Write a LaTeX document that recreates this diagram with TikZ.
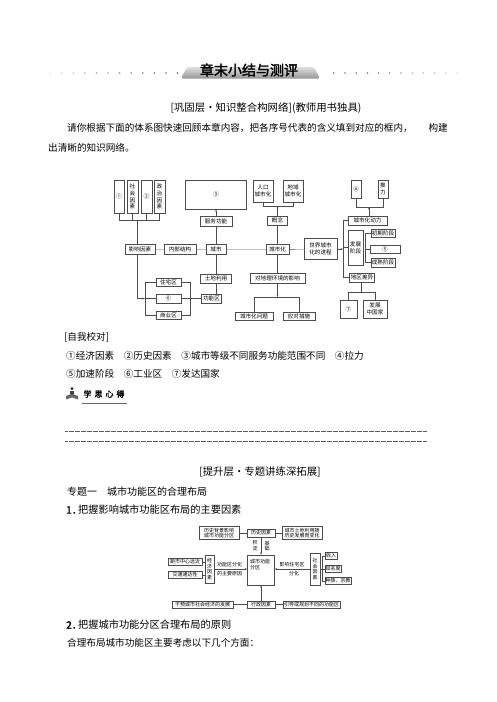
\documentclass[tikz,border=0pt]{standalone}
\usepackage{fontspec}
\newfontfamily\cjk{Noto Sans CJK SC}
\newfontfamily\cjkb[FakeBold=2]{Noto Sans CJK SC}
\usetikzlibrary{arrows.meta,positioning,calc}

\begin{document}
\begin{tikzpicture}[x=1pt,y=-1pt,>={Stealth[length=2.4pt,width=1.8pt]},
  every node/.style={font=\cjk,inner sep=0pt},
  sz/.style 2 args={minimum width=#1pt,minimum height=#2pt},
  bx/.style={draw=black!70,line width=0.4pt,align=center,font=\cjk\fontsize{5.6}{6.8}\selectfont},
  sbx/.style={draw=black!70,line width=0.45pt,align=center,font=\cjk\fontsize{5}{5.8}\selectfont},
  lbl/.style={align=center,font=\cjk\fontsize{5}{5.8}\selectfont},
  ln/.style={draw=black!70,line width=0.4pt},
  txt/.style={anchor=west,font=\cjk\fontsize{9.6}{11}\selectfont},
  hd/.style={font=\cjk\fontsize{10.4}{12}\selectfont},
  dots/.style={black!65,line width=0.45pt,dash pattern=on 0.45pt off 0.75pt}]
\useasboundingbox (0,0) rectangle (496,702);

% banner
\shade[top color=black!12,bottom color=black!42,rounded corners=2pt]
  (181,78.5) -- (187,67) -- (314,67) -- (320,78.5) -- cycle;
\node[font=\cjkb\fontsize{14}{16}\selectfont] (zmxj) at (249,70) {章末小结与测评};
\foreach \i in {0,...,11} {
  \pgfmathsetmacro{\c}{min(55,12+\i*5)}
  \fill[black!\c] (50+\i*11.6,73) circle (0.9);
  \fill[black!\c] (457-\i*11.2,73) circle (0.9);
}

\node[hd] (gcc) at (266,108) {[巩固层·知识整合构网络](教师用书独具)};
\node[txt] (qn1) at (67,128) {请你根据下面的体系图快速回顾本章内容，把各序号代表的含义填到对应的框内，};
\node[txt,anchor=east] (qn2) at (448,128) {构建};
\node[txt] (qn3) at (48,148) {出清晰的知识网络。};

% knowledge network
\node[bx,sz={10}{33}] (q1) at (119,196.5) {①};
\node[bx,sz={11}{33}] (shys) at (132.5,196.5) {社\\会\\因\\素};
\node[bx,sz={11}{33}] (q2) at (146.5,196.5) {②};
\node[bx,sz={11}{33}] (zzys) at (159.5,196.5) {政\\治\\因\\素};
\coordinate (b1) at (137,220);

\node[bx,sz={30}{10}] (yxys) at (140,249.5) {影响因素};
\node[bx,sz={32}{10}] (nbjg) at (180,249.5) {内部结构};
\node[bx,sz={20}{10}] (cs) at (216,249.5) {城市};
\node[bx,sz={23}{10}] (csh) at (277.5,249.5) {城市化};
\node[bx,sz={33}{21}] (sjjc) at (320.5,249) {世界城市\\化的进程};

\node[bx,sz={61}{29}] (q3) at (216,194.5) {③};
\node[bx,sz={32}{10}] (fwgn) at (216,221) {服务功能};

\node[bx,sz={20}{22}] (rkcsh) at (263,191) {人口\\城市化};
\node[bx,sz={20}{22}] (dycsh) at (293,191) {地域\\城市化};
\node[bx,sz={20}{9}] (gn) at (277.5,220.5) {概念};
\coordinate (b3) at (277.5,206);

\coordinate (sx) at (343,249);
\node[bx,sz={10}{18}] (q4) at (356,189) {④};
\node[bx,sz={10}{18}] (tl) at (383,189) {推\\力};
\node[bx,sz={39}{9}] (dl) at (367.5,220.5) {城市化动力};
\coordinate (b4) at (369,207);
\node[bx,sz={15}{35}] (fzjd) at (355.5,247.5) {发展\\阶段};
\coordinate (fr) at (365,247.5);
\node[bx,sz={24}{8}] (cqjd) at (383,233) {初期阶段};
\node[bx,sz={30}{8}] (q5) at (385,249) {⑤};
\node[bx,sz={24}{9}] (csjd) at (383,262.5) {成熟阶段};
\node[bx,sz={25}{9}] (dqcy) at (362,277.5) {地区差异};
\node[bx,sz={17}{18}] (q7) at (348.5,309) {⑦};
\node[bx,sz={24}{18}] (fzzg) at (375,309) {发展\\中国家};
\coordinate (b5) at (361,292);

\node[bx,sz={31}{9}] (tdly) at (216,278.5) {土地利用};
\node[bx,sz={20}{9}] (gnq) at (211.5,298.5) {功能区};
\node[bx,sz={25}{8}] (zzq) at (168.5,282) {住宅区};
\node[bx,sz={25}{9}] (q6) at (168.5,298.5) {⑥};
\node[bx,sz={25}{8}] (syq) at (168.5,315) {商业区};
\coordinate (lb) at (145,298.5);
\coordinate (rb) at (190,298.5);

\node[bx,sz={55}{10}] (dlhj) at (277.5,278) {对地理环境的影响};
\coordinate (b6) at (277.5,297);
\node[bx,sz={38}{8}] (wt) at (254,316) {城市化问题};
\node[bx,sz={32}{8}] (ydcs) at (299,316) {应对措施};

\draw[ln] (q1.south) |- (zzys.south |- b1) -- (zzys.south);
\draw[ln] (shys.south) -- (shys.south |- b1);
\draw[ln] (q2.south) -- (q2.south |- b1);
\draw[ln] (b1) -- (b1 |- yxys.north);
\draw[ln] (yxys) -- (nbjg) -- (cs) -- (csh) -- (sjjc);
\draw[ln] (cs) -- (fwgn);
\draw[ln,->] (fwgn) -- (q3);
\draw[ln] (rkcsh.south) |- (dycsh.south |- b3) -- (dycsh.south);
\draw[ln] (csh) -- (gn);
\draw[ln,->] (gn) -- (b3);
\draw[ln] (q4.south) |- (tl.south |- b4) -- (tl.south);
\draw[ln,->] (dl.north -| b4) -- (b4);
\draw[ln] (dl.west) -| (sx |- dqcy.west) -- (dqcy.west);
\draw[ln] (fzjd.west) -- (fzjd.west -| sx);
\draw[ln,->] (sjjc.east) -- (sjjc.east -| sx);
\draw[ln] (cqjd.west) -| (fr |- csjd.west) -- (csjd.west);
\draw[ln] (q5.west) -- (q5.west -| fr);
\draw[ln] (q7.north) |- (fzzg.north |- b5) -- (fzzg.north);
\draw[ln] (dqcy.south -| b5) -- (b5);
\draw[ln] (cs) -- (tdly);
\draw[ln] (tdly.south) -- (tdly.south |- gnq.north);
\draw[ln] (zzq.west) -| (lb |- syq.west) -- (syq.west);
\draw[ln] (q6.west) -- (lb);
\draw[ln] (zzq.east) -| (rb |- syq.east) -- (syq.east);
\draw[ln] (q6.east) -- (gnq.west);
\draw[ln,->] (b1 |- yxys.south) |- (lb);
\draw[ln] (csh) -- (dlhj);
\draw[ln,->] (dlhj) -- (b6);
\draw[ln] (wt.north) |- (ydcs.north |- b6) -- (ydcs.north);

% answers
\node[txt] (zwjd) at (64,337) {[自我校对]};
\node[txt] (da1) at (66,356) {①经济因素　②历史因素　③城市等级不同服务功能范围不同　④拉力};
\node[txt] (da2) at (66,374) {⑤加速阶段　⑥工业区　⑦发达国家};

% study icon
\fill[black!75] (72,388.6) circle (1.7);
\fill[black!75] (70,391) rectangle (74,395.5);
\fill[black!60] (66,396) -- (72,393.8) -- (78,396) -- (78,399.5) -- (72,397.4) -- (66,399.5) -- cycle;
\node[font=\cjkb\fontsize{8}{9}\selectfont] (xsxd) at (104,394) {学\hspace{3pt}思\hspace{3pt}心\hspace{3pt}得};
\draw[black!60,line width=0.6pt] (82,403) -- (127,403);
\draw[dots] (65,431) -- (427,431);
\draw[dots] (65,441) -- (427,441);

\node[hd] (tsc) at (260,472) {[提升层·专题讲练深拓展]};
\node[txt,font=\cjk\fontsize{10}{12}\selectfont] (zt1) at (67,492) {专题一　城市功能区的合理布局};
\node[txt,font=\cjkb\fontsize{10.2}{12}\selectfont] (bw1) at (66,510) {1．};
\node[txt,font=\cjk\fontsize{10.2}{12}\selectfont] (bw1b) at (78,510) {把握影响城市功能区布局的主要因素};

% factors of functional zones
\node[sbx,sz={40}{13}] (lsbj) at (219,533) {历史背景影响\\城市功能分区};
\node[sbx,sz={28}{8}] (lsys) at (261,533) {历史因素};
\node[sbx,sz={40}{13}] (tdbh) at (302,533) {城市土地利用随\\历史发展而变化};
\node[lbl] (jd) at (255,546) {积\\淀};
\node[lbl] (jc) at (267,546) {基\\础};
\node[sbx,sz={27}{30}] (gnfq) at (261,570) {};
\node[lbl,align=left,anchor=north west] (gnfqt) at (250,559) {城市功能\\分区};
\node[sbx,sz={9}{28}] (jjys) at (209.5,569) {经\\济\\因\\素};
\node[sbx,sz={34}{7}] (jszx) at (185,562) {距市中心远近};
\node[sbx,sz={34}{7}] (jtdd) at (185,575) {交通通达性};
\node[lbl] (yy1) at (229.5,564.5) {功能区分化};
\node[lbl] (yy2) at (229.5,573.5) {的主要原因};
\node[sbx,sz={10}{32}] (shys2) at (315,569) {社\\会\\因\\素};
\node[sbx,sz={12}{7}] (sr) at (331,556) {收入};
\node[sbx,sz={16}{7}] (zmd) at (333,569) {知名度};
\node[sbx,sz={26}{7}] (zzzj) at (338,581) {种族、宗教};
\coordinate (rb2) at (322.5,569);
\node[lbl] (yx1) at (292,564.5) {影响住宅区};
\node[lbl] (yx2) at (294,573.5) {分化};
\node[sbx,sz={61}{7}] (gy) at (202.5,604.5) {干预城市社会经济的发展};
\node[sbx,sz={28}{7}] (xzys) at (261,604.5) {行政因素};
\node[sbx,sz={57}{7}] (ydgh) at (311.5,604.5) {引导或规划不同的功能区};

\draw[ln] (lsbj) -- (lsys) -- (tdbh);
\draw[ln,->] (lsys) -- (gnfq);
\draw[ln] (jszx) -- (jszx -| jjys.west);
\draw[ln] (jtdd) -- (jtdd -| jjys.west);
\draw[ln,->] (jjys.east) -- (gnfq.west |- jjys.east);
\draw[ln] (sr.west) -| (rb2 |- zzzj.west) -- (zzzj.west);
\draw[ln] (shys2.east) -- (zmd.west);
\draw[ln,->] (shys2.west) -- (gnfq.east |- shys2.west);
\draw[ln] (gy) -- (xzys) -- (ydgh);
\draw[ln,->] (xzys) -- (gnfq);

\node[txt,font=\cjkb\fontsize{10.2}{12}\selectfont] (bw2) at (66,625) {2．};
\node[txt,font=\cjk\fontsize{10.2}{12}\selectfont] (bw2b) at (78,625) {把握城市功能分区合理布局的原则};
\node[txt] (hl) at (67,643) {合理布局城市功能区主要考虑以下几个方面：};
\end{tikzpicture}
\end{document}
